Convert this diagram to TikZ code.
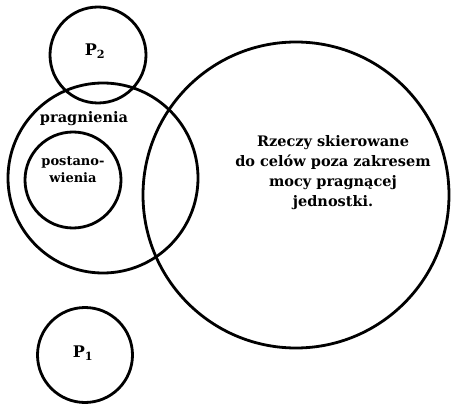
\documentclass[tikz,border=0pt]{standalone}
\usepackage{fontspec}
\setmainfont{DejaVu Serif}
\usetikzlibrary{positioning}

\tikzset{
  ring/.style={circle, draw, line width=2.8pt, inner sep=0pt},
  lbl/.style={font=\bfseries\fontsize{14.5}{20}\selectfont, align=center, inner sep=0pt},
}

\begin{document}
\begin{tikzpicture}[x=1pt,y=-1pt]
  \useasboundingbox (0,0) rectangle (456,404);
  % circles
  \node[ring, minimum size=306pt] (rzeczy) at (296,195) {};
  \node[ring, minimum size=190pt] (pragn) at (103,178) {};
  \node[ring, minimum size=96pt] (postan) at (73,180) {};
  \node[ring, minimum size=96pt] (ptwo) at (98,55) {};
  \node[ring, minimum size=95pt] (pone) at (85,355) {};
  % labels
  \node[lbl, font=\bfseries\fontsize{16}{20}\selectfont] (ptwolbl) at (95,51) {P\textsubscript{2}};
  \node[lbl, font=\bfseries\fontsize{16}{20}\selectfont] (ponelbl) at (83,353) {P\textsubscript{1}};
  \node[lbl] (pragnlbl) at (84,119) {pragnienia};
  \node[lbl, font=\bfseries\fontsize{13}{17}\selectfont] (postanlbl) at (73,170) {postano-\\wienia};
  \node[lbl] (rzeczylbl) at (333,173) {Rzeczy skierowane\\do celów poza zakresem\\mocy pragnącej\\jednostki.};
\end{tikzpicture}
\end{document}
